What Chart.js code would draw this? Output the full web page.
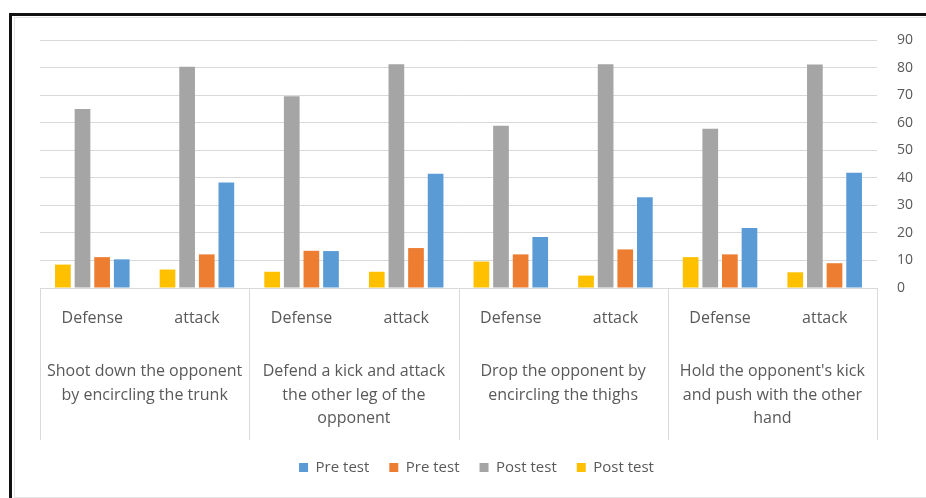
<!DOCTYPE html>
<html>
<head>
<meta charset="utf-8">
<script src="https://cdn.jsdelivr.net/npm/chart.js@4.4.0/dist/chart.umd.min.js"></script>
<style>
  body { margin: 0; background: #fff; overflow: hidden; }
  #frame { position: absolute; left: 9px; top: 13px; width: 940px; height: 520px;
           border-left: 3px solid #111; border-top: 3px solid #111; }
  #inner { position: absolute; left: 14px; top: 17px; width: 940px; height: 479px;
           border-left: 1px solid #e4e4e4; border-top: 1px solid #e4e4e4; border-bottom: 1px solid #e4e4e4; }
  #wrap { position: absolute; left: 0; top: 0; width: 926px; height: 498px; }
</style>
</head>
<body>
<div id="frame"></div>
<div id="inner"></div>
<div id="wrap"><canvas id="chart"></canvas></div>
<script>
const categories = ["Defense", "attack", "Defense", "attack", "Defense", "attack", "Defense", "attack"];
const groupNames = [
  ["Shoot down the opponent", "by encircling the trunk"],
  ["Defend a kick and attack", "the other leg of the", "opponent"],
  ["Drop the opponent by", "encircling the thighs"],
  ["Hold the opponent's kick", "and push with the other", "hand"]
];
const yTicks = [0, 10, 20, 30, 40, 50, 60, 70, 80, 90];

// series, in the order they sit inside each category (left to right)
const postTestYellow = [8.5, 6.7, 5.9, 5.9, 9.6, 4.5, 11.2, 5.7];
const postTestGray = [65, 80.3, 69.6, 81.2, 58.9, 81.2, 57.8, 81.1];
const preTestOrange = [11.2, 12.2, 13.5, 14.5, 12.2, 14, 12.2, 9];
const preTestBlue = [10.4, 38.3, 13.4, 41.5, 18.5, 32.9, 21.8, 41.8];

const textColor = "#595959";
const fontFamily = "'Open Sans', sans-serif";

// vertical separators between the group labels
const separators = {
  id: "separators",
  afterDraw(chart) {
    const x2 = chart.scales.x2;
    const ctx = chart.ctx;
    const w = (x2.right - x2.left) / groupNames.length;
    ctx.save();
    ctx.strokeStyle = "#d9d9d9";
    ctx.lineWidth = 1;
    for (let i = 0; i <= groupNames.length; i++) {
      const x = Math.round(x2.left + i * w) + 0.5;
      ctx.beginPath();
      ctx.moveTo(x, chart.chartArea.bottom);
      ctx.lineTo(x, 440);
      ctx.stroke();
    }
    ctx.restore();
  }
};

new Chart(document.getElementById("chart"), {
  type: "bar",
  data: {
    labels: categories,
    datasets: [
      { label: "Post test", data: postTestYellow, backgroundColor: "#FFC000" },
      { label: "Post test", data: postTestGray, backgroundColor: "#A5A5A5" },
      { label: "Pre test", data: preTestOrange, backgroundColor: "#ED7D31" },
      { label: "Pre test", data: preTestBlue, backgroundColor: "#5B9BD5" }
    ]
  },
  options: {
    responsive: true,
    maintainAspectRatio: false,
    animation: false,
    datasets: { bar: { categoryPercentage: 0.75, barPercentage: 0.8 } },
    layout: { padding: { left: 40, top: 40, right: 13, bottom: 13 } },
    plugins: {
      tooltip: { enabled: false },
      legend: {
        position: "bottom",
        labels: {
          sort: (a, b) => b.datasetIndex - a.datasetIndex,
          boxWidth: 9,
          boxHeight: 9,
          padding: 20,
          color: textColor,
          font: { family: fontFamily, size: 15 }
        }
      }
    },
    scales: {
      x: {
        grid: { display: false, drawTicks: false },
        border: { display: false },
        ticks: { color: textColor, font: { family: fontFamily, size: 16, lineHeight: 1.2 }, padding: 21, maxRotation: 0 },
        afterFit: s => { s.height = 40; }
      },
      x2: {
        type: "category",
        position: "bottom",
        labels: groupNames,
        offset: true,
        grid: { display: false, drawTicks: false },
        border: { display: false },
        ticks: { color: textColor, font: { family: fontFamily, size: 16, lineHeight: 1.47 }, padding: 32, maxRotation: 0 },
        afterFit: s => { s.height = 112; }
      },
      y: {
        position: "right",
        min: 0,
        max: 90,
        afterBuildTicks: s => { s.ticks = yTicks.map(v => ({ value: v })); },
        grid: { color: "#d9d9d9", drawTicks: false },
        border: { display: false },
        ticks: { color: textColor, font: { family: fontFamily, size: 14 }, padding: 20 },
        afterFit: s => { s.width = 36; }
      }
    }
  },
  plugins: [separators]
});
</script>
</body>
</html>
